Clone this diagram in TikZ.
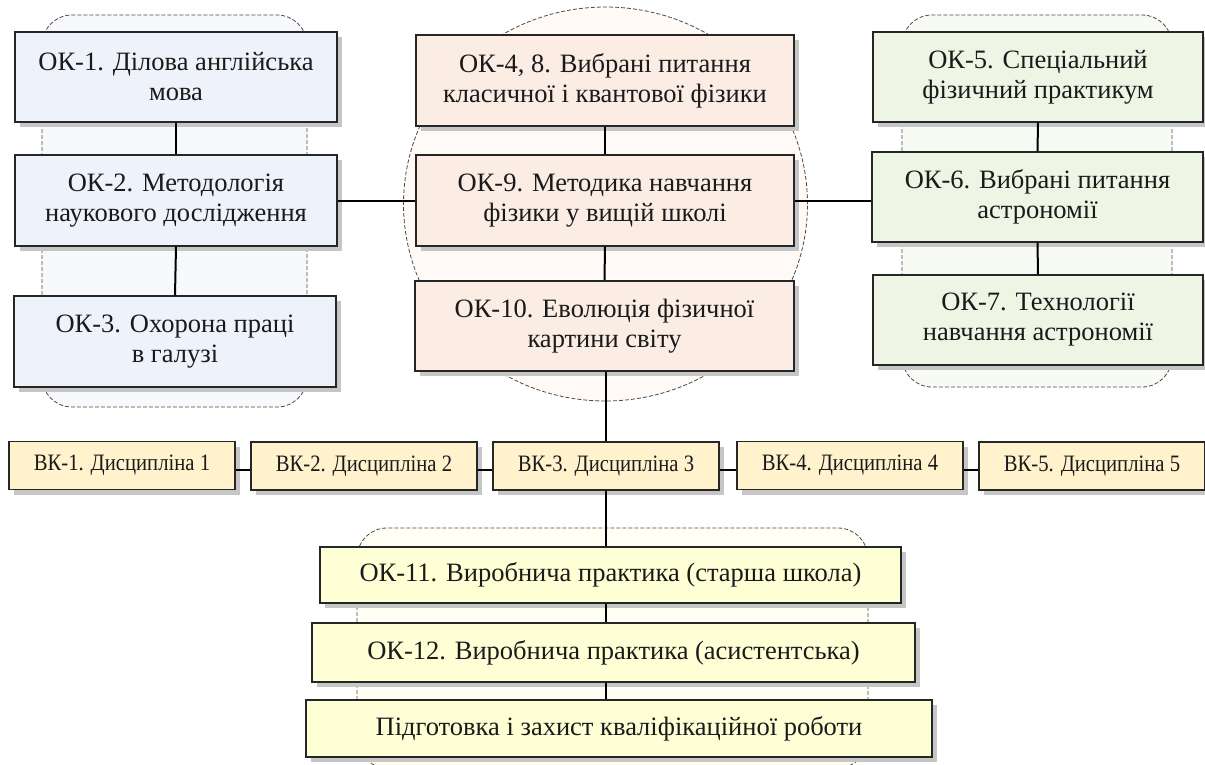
\documentclass[tikz,border=0pt]{standalone}
\usepackage{fontspec}
\setmainfont{Liberation Serif}
\newfontfamily\vkfont[FakeStretch=0.88]{Liberation Serif}
\usetikzlibrary{shadows}
\definecolor{fblue}{HTML}{EEF2FA}
\definecolor{fpeach}{HTML}{FBEDE4}
\definecolor{fgreen}{HTML}{EEF5E5}
\definecolor{fyel}{HTML}{FFF2CC}
\definecolor{fcream}{HTML}{FFFFD6}
\definecolor{cblue}{HTML}{F8F9FD}
\definecolor{cpeach}{HTML}{FFFAF6}
\definecolor{cgreen}{HTML}{F8FBF4}
\definecolor{ccream}{HTML}{FFFFF3}
\definecolor{shadowgray}{HTML}{C6C6C6}
\definecolor{dashgray}{HTML}{4A4A4A}
\definecolor{textblack}{HTML}{1A1A1A}
\begin{document}
\begin{tikzpicture}[x=1pt,y=-1pt,
  box/.style={draw=black!85, line width=1.3pt, align=center, inner sep=0pt,
    font=\fontsize{26.5}{30}\selectfont, text=textblack,
    drop shadow={shadow xshift=5pt, shadow yshift=-5pt, fill=shadowgray, opacity=1}},
  okbox/.style={box, minimum height=90pt},
  vkbox/.style={box, minimum width=226pt, minimum height=48pt, fill=fyel,
    font=\vkfont\fontsize{23.5}{26}\selectfont},
  bbox/.style={box, fill=fcream},
  group/.style={draw=dashgray, line width=0.8pt, dash pattern=on 4pt off 2pt},
  link/.style={draw=black, line width=2pt}
]
\useasboundingbox (0,0) rectangle (1205,764);
% groups
\draw[group, fill=cblue, rounded corners=30pt] (42,15) rectangle (307,407);
\draw[group, fill=cgreen, rounded corners=30pt] (902,15) rectangle (1172,387);
\draw[group, fill=cpeach] (605.5,204) ellipse [x radius=202pt, y radius=197pt];
\draw[group, fill=ccream, rounded corners=30pt] (357,528) rectangle (868,768);
% left column
\node[okbox, fill=fblue, minimum width=322pt] (ok1) at (176,77) {ОК-1. Ділова англійська\\мова};
\node[okbox, fill=fblue, minimum width=322pt, minimum height=91pt] (ok2) at (176,200.5) {ОК-2. Методологія\\наукового дослідження};
\node[okbox, fill=fblue, minimum width=322pt, minimum height=91pt] (ok3) at (175,341.5) {ОК-3. Охорона праці\\в галузі};
% centre column
\node[okbox, fill=fpeach, minimum width=378pt, minimum height=91pt] (ok48) at (605,80.5) {ОК-4, 8. Вибрані питання\\класичної і квантової фізики};
\node[okbox, fill=fpeach, minimum width=378pt, minimum height=91pt] (ok9) at (605,200.5) {ОК-9. Методика навчання\\фізики у вищій школі};
\node[okbox, fill=fpeach, minimum width=379pt] (ok10) at (604.5,326) {ОК-10. Еволюція фізичної\\картини світу};
% right column
\node[okbox, fill=fgreen, minimum width=330pt] (ok5) at (1038,77) {ОК-5. Спеціальний\\фізичний практикум};
\node[okbox, fill=fgreen, minimum width=331pt] (ok6) at (1037.5,197) {ОК-6. Вибрані питання\\астрономії};
\node[okbox, fill=fgreen, minimum width=330pt] (ok7) at (1038,320) {ОК-7. Технології\\навчання астрономії};
% elective row
\node[vkbox] (vk1) at (122,465.5) {ВК-1. Дисципліна 1};
\node[vkbox] (vk2) at (364,466) {ВК-2. Дисципліна 2};
\node[vkbox] (vk3) at (606,466) {ВК-3. Дисципліна 3};
\node[vkbox] (vk4) at (850,465.5) {ВК-4. Дисципліна 4};
\node[vkbox] (vk5) at (1092,466) {ВК-5. Дисципліна 5};
% bottom
\node[bbox, minimum width=581pt, minimum height=56pt] (ok11) at (610.5,575) {ОК-11. Виробнича практика (старша школа)};
\node[bbox, minimum width=603pt, minimum height=59pt] (ok12) at (613.5,652.5) {ОК-12. Виробнича практика (асистентська)};
\node[bbox, minimum width=626pt, minimum height=57pt] (okq) at (619,728.5) {Підготовка і захист кваліфікаційної роботи};
% links
\draw[link] (ok1.south) -- (ok2.north);
\draw[link] (ok2.south) -- (ok3.north);
\draw[link] (ok48.south) -- (ok9.north);
\draw[link] (ok9.south) -- (ok10.north);
\draw[link] (ok5.south) -- (ok6.north);
\draw[link] (ok6.south) -- (ok7.north);
\draw[link] (ok2.east) -- (ok9.west);
\draw[link] (ok9.east) -- (ok9.east -| ok6.west);
\draw[link] (vk3.north |- ok10.south) -- (vk3.north);
\draw[link] ([yshift=-4pt]vk1.east) -- ([yshift=-4pt]vk1.east -| vk2.west);
\draw[link] ([yshift=-4pt]vk2.east) -- ([yshift=-4pt]vk2.east -| vk3.west);
\draw[link] ([yshift=-4pt]vk3.east) -- ([yshift=-4pt]vk3.east -| vk4.west);
\draw[link] ([yshift=-4pt]vk4.east) -- ([yshift=-4pt]vk4.east -| vk5.west);
\draw[link] (vk3.south) -- (vk3.south |- ok11.north);
\draw[link] (vk3.south |- ok11.south) -- (vk3.south |- ok12.north);
\draw[link] (vk3.south |- ok12.south) -- (vk3.south |- okq.north);
\end{tikzpicture}
\end{document}
